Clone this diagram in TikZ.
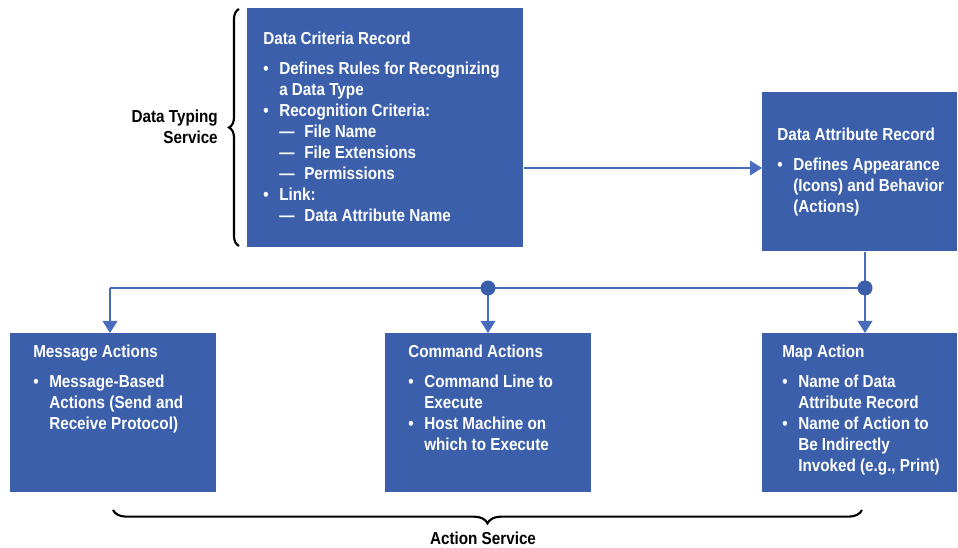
\documentclass[tikz,border=0pt]{standalone}
\usepackage{fontspec}
\setmainfont{Liberation Sans}[FakeStretch=0.88]
\usetikzlibrary{arrows.meta,decorations.pathreplacing}
\definecolor{recblue}{RGB}{59,95,170}
\definecolor{linkblue}{RGB}{72,108,188}
\newcommand{\bul}{\makebox[12pt][l]{\textbullet}}
\newcommand{\ind}{\hspace*{12pt}}
\newcommand{\dsh}{\makebox[18.75pt][l]{—}}

\begin{document}
\begin{tikzpicture}[x=0.75pt,y=-0.75pt,
  record/.style={fill=recblue,inner sep=0pt,anchor=north west},
  rectext/.style={text=white,inner sep=0pt,anchor=north west,align=left,
    font=\fontsize{13}{15.75}\selectfont\bfseries},
  side/.style={inner sep=0pt,font=\fontsize{13}{15.75}\selectfont\bfseries},
  link/.style={draw=linkblue,line width=1.1pt},
  tip/.style={-{Triangle[width=11pt,length=9pt]}},
  curly/.style={decorate,decoration={brace,amplitude=#1},line width=1.6pt}]
  \useasboundingbox (0,0) rectangle (958,548);
  % records
  \node[record,minimum width=207pt,minimum height=179.25pt] (dcr) at (247,8) {};
  \node[record,minimum width=146.25pt,minimum height=119.25pt] (dar) at (762,92) {};
  \node[record,minimum width=154.5pt,minimum height=119.25pt] (msg) at (10,333) {};
  \node[record,minimum width=154.5pt,minimum height=119.25pt] (cmd) at (385,333) {};
  \node[record,minimum width=146.25pt,minimum height=119.25pt] (map) at (762,333) {};
  \node[rectext] (dcrtext) at (263,32) {Data Criteria Record\\[6.75pt]
    \bul Defines Rules for Recognizing\\
    \ind a Data Type\\
    \bul Recognition Criteria:\\
    \ind\dsh File Name\\
    \ind\dsh File Extensions\\
    \ind\dsh Permissions\\
    \bul Link:\\
    \ind\dsh Data Attribute Name};
  \node[rectext] (dartext) at (777,128) {Data Attribute Record\\[6.75pt]
    \bul Defines Appearance\\
    \ind (Icons) and Behavior\\
    \ind (Actions)};
  \node[rectext] (msgtext) at (33,345) {Message Actions\\[6.75pt]
    \bul Message-Based\\
    \ind Actions (Send and\\
    \ind Receive Protocol)};
  \node[rectext] (cmdtext) at (408,345) {Command Actions\\[6.75pt]
    \bul Command Line to\\
    \ind Execute\\
    \bul Host Machine on\\
    \ind which to Execute};
  \node[rectext] (maptext) at (782,345) {Map Action\\[6.75pt]
    \bul Name of Data\\
    \ind Attribute Record\\
    \bul Name of Action to\\
    \ind Be Indirectly\\
    \ind Invoked (e.g., Print)};
  % services
  \node[side,anchor=north east,align=right] (typing) at (218,110) {Data Typing\\Service};
  \node[side,anchor=north] (action) at (483,532) {Action Service};
  \draw[curly=7.5pt] (239,246) -- (239,9);
  \draw[curly=10pt] (862,510) -- (113,510);
  % links
  \coordinate (ay) at (0,168);
  \coordinate (j0) at (110,288);
  \coordinate (j1) at (488,288);
  \coordinate (j2) at (865,288);
  \draw[link,tip] (dcr.east |- ay) -- (dar.west |- ay);
  \draw[link] (dar.south -| j2) -- (j2) -- (j0);
  \draw[link,tip] (j0) -- (msg.north -| j0);
  \draw[link,tip] (j1) -- (cmd.north -| j1);
  \draw[link,tip] (j2) -- (map.north -| j2);
  \fill[recblue] (j1) circle (7.5);
  \fill[recblue] (j2) circle (7.5);
\end{tikzpicture}
\end{document}
